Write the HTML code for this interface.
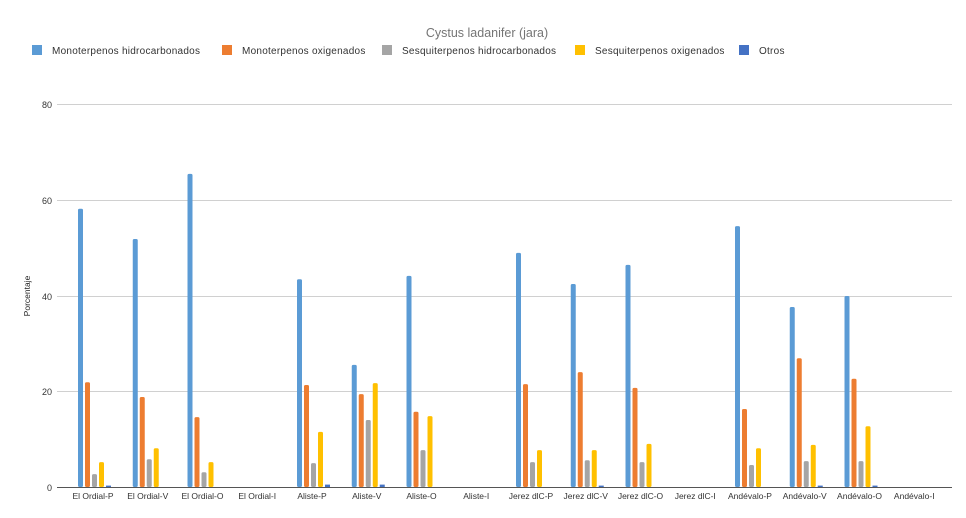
<!DOCTYPE html>
<html><head><meta charset="utf-8"><style>
body{margin:0;background:#fff}
svg{display:block;font-family:"Liberation Sans",sans-serif}
</style></head><body>
<svg width="966" height="518" viewBox="0 0 966 518" xmlns="http://www.w3.org/2000/svg">
<rect width="966" height="518" fill="#fff"/>
<text x="487" y="37" text-anchor="middle" font-size="12.5" fill="#757575">Cystus ladanifer (jara)</text>
<g font-size="10" fill="#333" letter-spacing="0.25">
<rect x="32" y="45" width="10" height="10" fill="#5b9bd5"/><text x="52" y="54">Monoterpenos hidrocarbonados</text>
<rect x="222" y="45" width="10" height="10" fill="#ed7d31"/><text x="242" y="54">Monoterpenos oxigenados</text>
<rect x="382" y="45" width="10" height="10" fill="#a5a5a5"/><text x="402" y="54">Sesquiterpenos hidrocarbonados</text>
<rect x="575" y="45" width="10" height="10" fill="#ffc000"/><text x="595" y="54">Sesquiterpenos oxigenados</text>
<rect x="739" y="45" width="10" height="10" fill="#4472c4"/><text x="759" y="54">Otros</text>
</g>
<g stroke="#d0d0d0" stroke-width="1">
<line x1="57" x2="952" y1="104.5" y2="104.5"/>
<line x1="57" x2="952" y1="200.5" y2="200.5"/>
<line x1="57" x2="952" y1="296.5" y2="296.5"/>
<line x1="57" x2="952" y1="391.5" y2="391.5"/>
</g>
<line x1="57" x2="952" y1="487.5" y2="487.5" stroke="#555"/>
<g font-size="9" fill="#333" text-anchor="end">
<text x="52" y="108">80</text><text x="52" y="204">60</text><text x="52" y="300">40</text><text x="52" y="395">20</text><text x="52" y="491">0</text>
</g>
<text transform="translate(30,296) rotate(-90)" text-anchor="middle" font-size="8.5" fill="#222">Porcentaje</text>
<g>
<g fill="#5b9bd5">
<rect x="78" y="208.8" width="5" height="278.2" rx="1.5"/>
<rect x="132.75" y="239" width="5" height="248" rx="1.5"/>
<rect x="187.5" y="173.9" width="5" height="313.1" rx="1.5"/>
<rect x="297" y="279.2" width="5" height="207.8" rx="1.5"/>
<rect x="351.75" y="364.9" width="5" height="122.1" rx="1.5"/>
<rect x="406.5" y="275.9" width="5" height="211.1" rx="1.5"/>
<rect x="516" y="252.9" width="5" height="234.1" rx="1.5"/>
<rect x="570.75" y="284" width="5" height="203" rx="1.5"/>
<rect x="625.5" y="264.9" width="5" height="222.1" rx="1.5"/>
<rect x="735" y="226.1" width="5" height="260.9" rx="1.5"/>
<rect x="789.75" y="307" width="5" height="180" rx="1.5"/>
<rect x="844.5" y="296" width="5" height="191" rx="1.5"/>
</g>
<g fill="#ed7d31">
<rect x="85" y="382.2" width="5" height="104.8" rx="1.5"/>
<rect x="139.75" y="397" width="5" height="90" rx="1.5"/>
<rect x="194.5" y="417.1" width="5" height="69.9" rx="1.5"/>
<rect x="304" y="385" width="5" height="102" rx="1.5"/>
<rect x="358.75" y="394.1" width="5" height="92.9" rx="1.5"/>
<rect x="413.5" y="411.8" width="5" height="75.2" rx="1.5"/>
<rect x="523" y="384.1" width="5" height="102.9" rx="1.5"/>
<rect x="577.75" y="372.1" width="5" height="114.9" rx="1.5"/>
<rect x="632.5" y="387.9" width="5" height="99.1" rx="1.5"/>
<rect x="742" y="409" width="5" height="78" rx="1.5"/>
<rect x="796.75" y="358.2" width="5" height="128.8" rx="1.5"/>
<rect x="851.5" y="378.8" width="5" height="108.2" rx="1.5"/>
</g>
<g fill="#a5a5a5">
<rect x="92" y="474.1" width="5" height="12.9" rx="1.5"/>
<rect x="146.75" y="459.2" width="5" height="27.8" rx="1.5"/>
<rect x="201.5" y="472.2" width="5" height="14.8" rx="1.5"/>
<rect x="311" y="463.1" width="5" height="23.9" rx="1.5"/>
<rect x="365.75" y="420" width="5" height="67" rx="1.5"/>
<rect x="420.5" y="450.1" width="5" height="36.9" rx="1.5"/>
<rect x="530" y="462.1" width="5" height="24.9" rx="1.5"/>
<rect x="584.75" y="460.2" width="5" height="26.8" rx="1.5"/>
<rect x="639.5" y="462.1" width="5" height="24.9" rx="1.5"/>
<rect x="749" y="465" width="5" height="22" rx="1.5"/>
<rect x="803.75" y="461.1" width="5" height="25.9" rx="1.5"/>
<rect x="858.5" y="461.1" width="5" height="25.9" rx="1.5"/>
</g>
<g fill="#ffc000">
<rect x="99" y="462.1" width="5" height="24.9" rx="1.5"/>
<rect x="153.75" y="448.2" width="5" height="38.8" rx="1.5"/>
<rect x="208.5" y="462.1" width="5" height="24.9" rx="1.5"/>
<rect x="318" y="431.9" width="5" height="55.1" rx="1.5"/>
<rect x="372.75" y="383.1" width="5" height="103.9" rx="1.5"/>
<rect x="427.5" y="416.1" width="5" height="70.9" rx="1.5"/>
<rect x="537" y="450.1" width="5" height="36.9" rx="1.5"/>
<rect x="591.75" y="450.1" width="5" height="36.9" rx="1.5"/>
<rect x="646.5" y="443.9" width="5" height="43.1" rx="1.5"/>
<rect x="756" y="448.2" width="5" height="38.8" rx="1.5"/>
<rect x="810.75" y="444.9" width="5" height="42.1" rx="1.5"/>
<rect x="865.5" y="426.2" width="5" height="60.8" rx="1.5"/>
</g>
<g fill="#4472c4">
<rect x="106" y="485.6" width="5" height="1.4"/>
<rect x="325" y="484.6" width="5" height="2.4"/>
<rect x="379.75" y="484.6" width="5" height="2.4"/>
<rect x="598.75" y="485.6" width="5" height="1.4"/>
<rect x="817.75" y="485.6" width="5" height="1.4"/>
<rect x="872.5" y="485.6" width="5" height="1.4"/>
</g>
</g>
<g font-size="8.5" fill="#333" text-anchor="middle">
<text x="93" y="499">El Ordial-P</text>
<text x="147.75" y="499">El Ordial-V</text>
<text x="202.5" y="499">El Ordial-O</text>
<text x="257.25" y="499">El Ordial-I</text>
<text x="312" y="499">Aliste-P</text>
<text x="366.75" y="499">Aliste-V</text>
<text x="421.5" y="499">Aliste-O</text>
<text x="476.25" y="499">Aliste-I</text>
<text x="531" y="499">Jerez dlC-P</text>
<text x="585.75" y="499">Jerez dlC-V</text>
<text x="640.5" y="499">Jerez dlC-O</text>
<text x="695.25" y="499">Jerez dlC-I</text>
<text x="750" y="499">Andévalo-P</text>
<text x="804.75" y="499">Andévalo-V</text>
<text x="859.5" y="499">Andévalo-O</text>
<text x="914.25" y="499">Andévalo-I</text>
</g>
</svg>
</body></html>
